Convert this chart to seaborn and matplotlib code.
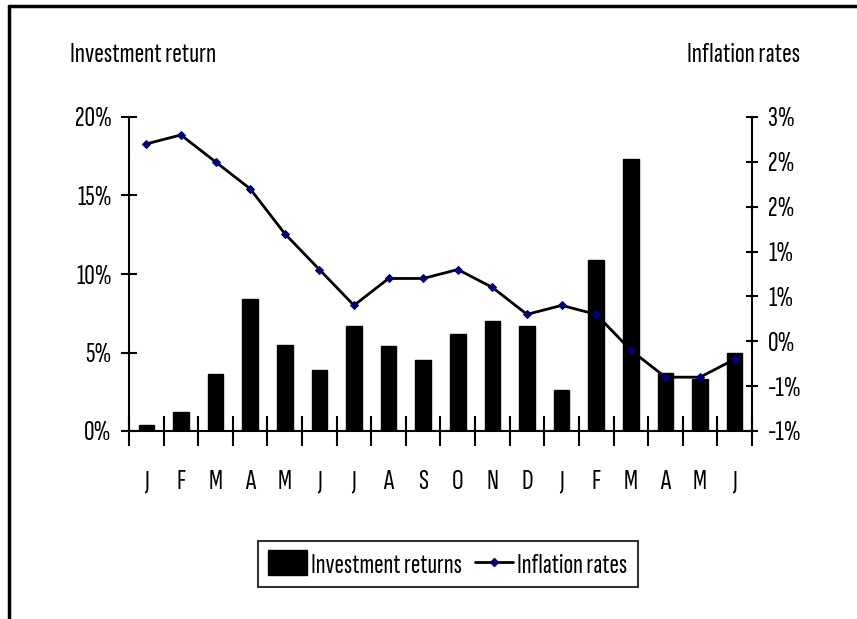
import numpy as np
import pandas as pd
import matplotlib
matplotlib.use("Agg")
import matplotlib.pyplot as plt
from matplotlib.lines import Line2D
from matplotlib.patches import Patch
from matplotlib.ticker import FuncFormatter, MultipleLocator, FixedLocator
import seaborn as sns

# Monthly data, January of year one through June of year two
months = ["J", "F", "M", "A", "M", "J", "J", "A", "S", "O", "N", "D",
          "J", "F", "M", "A", "M", "J"]
investment_returns = [0.4, 1.2, 3.6, 8.4, 5.5, 3.9, 6.7, 5.4, 4.5, 6.2,
                      7.0, 6.7, 2.6, 10.9, 17.3, 3.7, 3.3, 5.0]
inflation_rates = [2.2, 2.3, 2.0, 1.7, 1.2, 0.8, 0.4, 0.7, 0.7, 0.8,
                   0.6, 0.3, 0.4, 0.3, -0.1, -0.4, -0.4, -0.2]

sns.set_theme(style="white")
plt.rcParams["font.family"] = ["Sofia Sans Extra Condensed", "DejaVu Sans"]
plt.rcParams["text.color"] = "black"
plt.rcParams["xtick.color"] = "black"
plt.rcParams["ytick.color"] = "black"

df = pd.DataFrame({
    "pos": np.arange(len(months)),
    "month": months,
    "returns": investment_returns,
    "inflation": inflation_rates,
})

fig = plt.figure(figsize=(8.57, 6.19), dpi=100)
fig.patch.set_facecolor("white")
ax = fig.add_axes([129 / 857, 1 - 431 / 619, (752 - 129) / 857, (431 - 117) / 619])

sns.barplot(data=df, x="pos", y="returns", color="black", width=0.45,
            saturation=1, ax=ax, edgecolor="black")

ax2 = ax.twinx()
sns.lineplot(data=df, x="pos", y="inflation", ax=ax2, color="black",
             linewidth=2, marker="D", markersize=4.5,
             markerfacecolor="#000080", markeredgecolor="#000080")

n = len(months)
ax.set_xlim(-0.5, n - 0.5)
ax2.set_xlim(-0.5, n - 0.5)
ax.set_ylim(0, 20)
ax2.set_ylim(-1.0, 2.5)

fs = 21
ax.yaxis.set_major_locator(MultipleLocator(5))
ax.yaxis.set_major_formatter(FuncFormatter(lambda v, p: f"{v:.0f}%"))


def excel_round(v, p):
    r = int(np.sign(v) * np.floor(abs(v) + 0.5 + 1e-9))
    return f"{r}%"


ax2.yaxis.set_major_locator(MultipleLocator(0.5))
ax2.yaxis.set_major_formatter(FuncFormatter(excel_round))

# month letters centred under bars, tick marks on category boundaries
ax.xaxis.set_major_locator(FixedLocator(np.arange(n)))
ax.set_xticklabels(months)
ax.xaxis.set_minor_locator(FixedLocator(np.arange(n + 1) - 0.5))
ax.tick_params(axis="x", which="major", length=0, pad=28, labelsize=fs)
ax.tick_params(axis="x", which="minor", length=21, width=1.5,
               direction="inout", color="black", bottom=True)
ax.tick_params(axis="y", which="major", length=11, width=1.5,
               direction="inout", color="black", left=True, labelsize=fs, pad=7)
ax2.tick_params(axis="y", which="major", length=9, width=1.5,
                direction="inout", color="black", right=True, labelsize=fs, pad=7)

ax.set_xlabel("")
ax.set_ylabel("")
ax2.set_xlabel("")
ax2.set_ylabel("")

for a in (ax, ax2):
    a.spines["top"].set_visible(False)
    for s in ("left", "right", "bottom"):
        a.spines[s].set_color("black")
        a.spines[s].set_linewidth(1.5)
ax.spines["right"].set_visible(False)
ax2.spines["left"].set_visible(False)
ax2.spines["bottom"].set_visible(False)

fig.text(70 / 857, 1 - 55 / 619, "Investment return", fontsize=fs,
         ha="left", va="center")
fig.text(800 / 857, 1 - 55 / 619, "Inflation rates", fontsize=fs,
         ha="right", va="center")

handles = [
    Patch(facecolor="black", edgecolor="black", label="Investment returns"),
    Line2D([0], [0], color="black", linewidth=2, marker="D", markersize=4.5,
           markerfacecolor="#000080", markeredgecolor="#000080",
           label="Inflation rates"),
]
if ax2.get_legend() is not None:
    ax2.get_legend().remove()
leg = fig.legend(handles=handles, loc="center", ncol=2,
                 bbox_to_anchor=(448 / 857, 1 - 564 / 619), fontsize=20.5,
                 frameon=True, fancybox=False, handlelength=1.35,
                 handleheight=0.95, handletextpad=0.15, columnspacing=0.45,
                 borderpad=0.35, borderaxespad=0)
leg.get_frame().set_edgecolor("black")
leg.get_frame().set_linewidth(1.5)

# outer frame on the left and top edges
fig.add_artist(Line2D([9 / 857, 9 / 857], [0, 1 - 6 / 619], color="black",
                      linewidth=2.5, transform=fig.transFigure))
fig.add_artist(Line2D([9 / 857, 1], [1 - 6 / 619, 1 - 6 / 619], color="black",
                      linewidth=2.5, transform=fig.transFigure))

fig.savefig("out.png", dpi=100, facecolor="white")
